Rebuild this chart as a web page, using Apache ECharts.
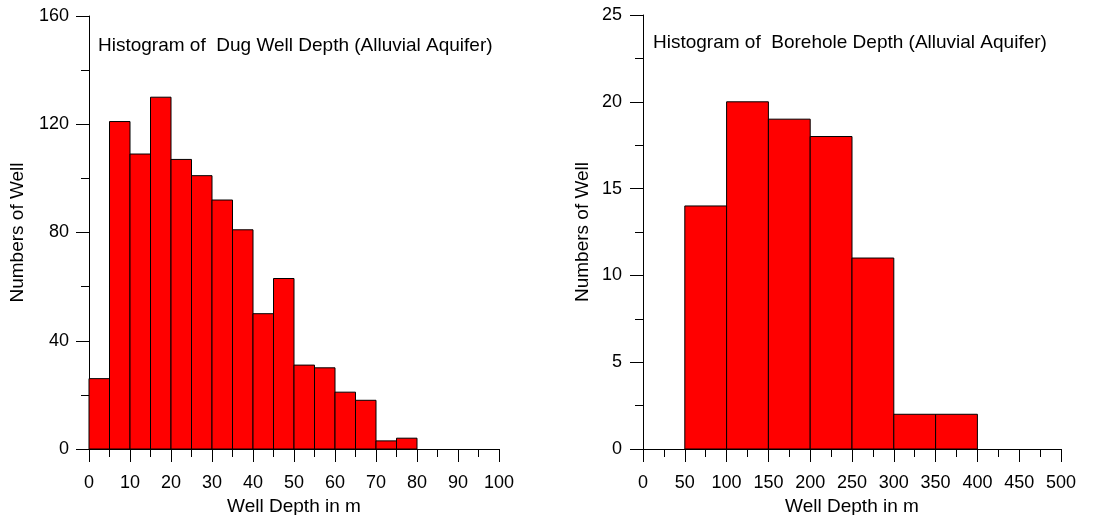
<!DOCTYPE html>
<html>
<head>
<meta charset="utf-8">
<script src="https://cdn.jsdelivr.net/npm/echarts@6/dist/echarts.min.js"></script>
<style>
html,body{margin:0;padding:0;background:#fff;}
#chart{width:1102px;height:515px;}
</style>
</head>
<body>
<div id="chart"></div>
<script>
// Dug well depth histogram (bin width 5 m)
const dugBinStarts = [0, 5, 10, 15, 20, 25, 30, 35, 40, 45, 50, 55, 60, 65, 70, 75];
const dugCounts    = [26, 121, 109, 130, 107, 101, 92, 81, 50, 63, 31, 30, 21, 18, 3, 4];
const dugBinWidth = 5;

// Borehole depth histogram (bin width 50 m)
const boreBinStarts = [50, 100, 150, 200, 250, 300, 350];
const boreCounts    = [14, 20, 19, 18, 11, 2, 2];
const boreBinWidth = 50;

const titles = ['Histogram of  Dug Well Depth (Alluvial Aquifer)', 'Histogram of  Borehole Depth (Alluvial Aquifer)'];
const xAxisName = 'Well Depth in m';
const yAxisName = 'Numbers of Well';

const FONT = 'Liberation Sans, Arial, sans-serif';
const chart = echarts.init(document.getElementById('chart'));

function binData(starts, counts, w) {
  return starts.map((s, i) => [s, s + w, counts[i]]);
}

function renderBar(params, api) {
  const p0 = api.coord([api.value(0), api.value(2)]);
  const p1 = api.coord([api.value(1), 0]);
  return {
    type: 'rect',
    shape: { x: p0[0], y: p0[1], width: p1[0] - p0[0], height: p1[1] - p0[1] },
    style: { fill: '#ff0000', stroke: '#000', lineWidth: 1 }
  };
}

const axisLineStyle = { color: '#000', width: 1 };
const labelStyle = { color: '#000', fontSize: 18, fontFamily: FONT };
const nameStyle = { color: '#000', fontSize: 19, fontFamily: FONT };

function xAxisCfg(idx, max, interval) {
  return {
    type: 'value', gridIndex: idx, min: 0, max: max, interval: interval,
    name: xAxisName, nameLocation: 'middle', nameGap: 43,
    nameTextStyle: nameStyle,
    axisLine: { show: true, onZero: false, lineStyle: axisLineStyle },
    axisTick: { show: true, length: 13, lineStyle: axisLineStyle },
    minorTick: { show: true, splitNumber: 2, length: 8, lineStyle: axisLineStyle },
    axisLabel: Object.assign({ margin: 25, showMinLabel: true, showMaxLabel: true }, labelStyle),
    splitLine: { show: false }, minorSplitLine: { show: false }
  };
}
function yAxisCfg(idx, max, interval, nameGap, labelMargin) {
  return {
    type: 'value', gridIndex: idx, min: 0, max: max, interval: interval,
    name: yAxisName, nameLocation: 'middle', nameGap: nameGap,
    nameTextStyle: nameStyle,
    axisLine: { show: true, lineStyle: axisLineStyle },
    axisTick: { show: true, length: 13, lineStyle: axisLineStyle },
    minorTick: { show: true, splitNumber: 2, length: 8, lineStyle: axisLineStyle },
    axisLabel: Object.assign({ margin: labelMargin }, labelStyle),
    splitLine: { show: false }, minorSplitLine: { show: false }
  };
}

const titleStyle = { color: '#000', fontSize: 19, fontWeight: 'normal', fontFamily: FONT };

chart.setOption({
  animation: false,
  backgroundColor: '#fff',
  title: [
    { text: titles[0], left: 98, top: 36, padding: 0, textStyle: titleStyle },
    { text: titles[1], left: 653, top: 33, padding: 0, textStyle: titleStyle }
  ],
  grid: [
    { left: 89, top: 16, right: 603, bottom: 66, outerBoundsMode: 'none', containLabel: false },
    { left: 643, top: 15, right: 41, bottom: 66, outerBoundsMode: 'none', containLabel: false }
  ],
  xAxis: [ xAxisCfg(0, 100, 10), xAxisCfg(1, 500, 50) ],
  yAxis: [ yAxisCfg(0, 160, 40, 62, 20), yAxisCfg(1, 25, 5, 51, 21) ],
  series: [
    { type: 'custom', xAxisIndex: 0, yAxisIndex: 0, renderItem: renderBar,
      encode: { x: [0, 1], y: 2 }, data: binData(dugBinStarts, dugCounts, dugBinWidth) },
    { type: 'custom', xAxisIndex: 1, yAxisIndex: 1, renderItem: renderBar,
      encode: { x: [0, 1], y: 2 }, data: binData(boreBinStarts, boreCounts, boreBinWidth) }
  ]
});
</script>
</body>
</html>
